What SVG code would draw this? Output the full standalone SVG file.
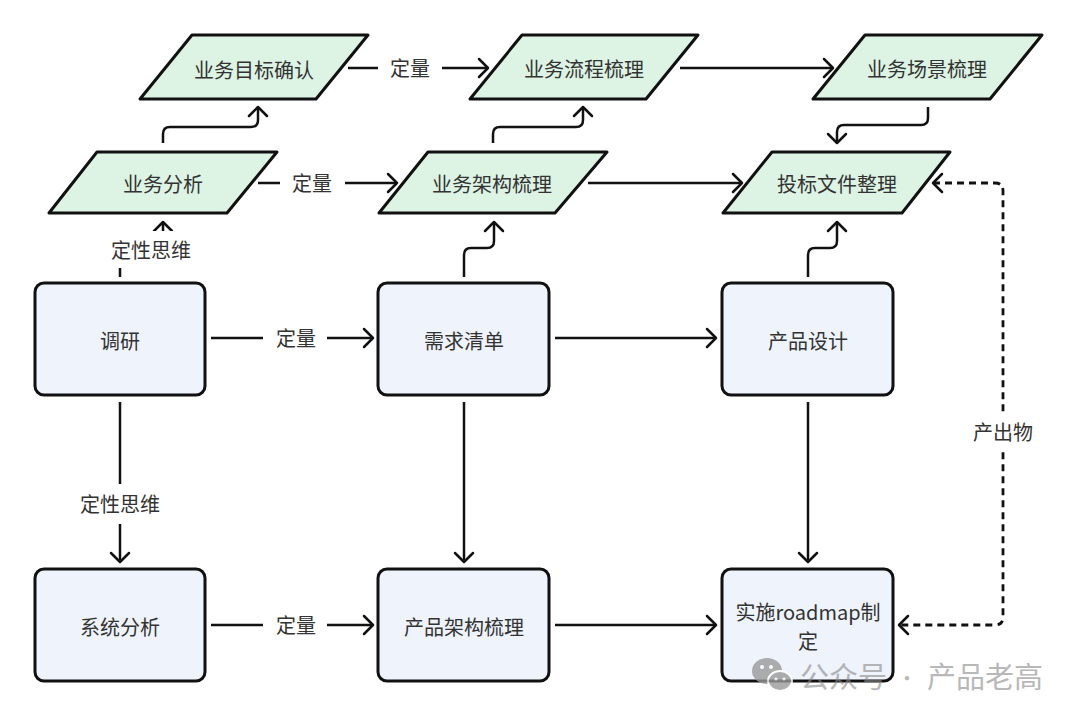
<svg xmlns="http://www.w3.org/2000/svg" width="1080" height="718" viewBox="0 0 1080 718">
<defs>
<style>
.para{fill:#ddf3e4;stroke:#111;stroke-width:3;stroke-linejoin:round}
.box{fill:#eff3fc;stroke:#111;stroke-width:3}
.t{font-family:"Noto Sans CJK SC","Noto Sans",sans-serif;font-size:20px;fill:#333;text-anchor:middle}
.c{fill:none;stroke:#111;stroke-width:2.5;stroke-linecap:butt;stroke-linejoin:round}
.d{fill:none;stroke:#111;stroke-width:2.8;stroke-dasharray:7 5}
.bg{fill:#fff}
.wm{font-family:"Noto Sans CJK SC","Noto Sans",sans-serif;font-size:29px;fill:#8a8a8a;opacity:0.75}
</style>
<marker id="a" viewBox="-12 -12 14 24" refX="0" refY="0" markerWidth="14" markerHeight="24" markerUnits="userSpaceOnUse" orient="auto-start-reverse">
<path d="M-9,-9 L0,0 L-9,9" fill="none" stroke="#111" stroke-width="2.5" stroke-linecap="round" stroke-linejoin="round"/>
</marker>
</defs>
<rect width="1080" height="718" fill="#fff"/>

<g id="connectors">
<path class="c" d="M348,68 H488" marker-end="url(#a)"/>
<path class="c" d="M680,68 H833" marker-end="url(#a)"/>
<path class="c" d="M258,183 H397" marker-end="url(#a)"/>
<path class="c" d="M588,183 H742" marker-end="url(#a)"/>
<path class="c" d="M163,143 V134 Q163,127 170,127 H251 Q258,127 258,120 V107" marker-end="url(#a)"/>
<path class="c" d="M493,143 V134 Q493,127 500,127 H576 Q583,127 583,120 V107" marker-end="url(#a)"/>
<path class="c" d="M928,107 V118 Q928,125 921,125 H844 Q837,125 837,132 V143" marker-end="url(#a)"/>
<path class="c" d="M464,277 V255 Q464,248 471,248 H487 Q494,248 494,241 V222" marker-end="url(#a)"/>
<path class="c" d="M808,277 V255 Q808,248 815,248 H830 Q837,248 837,241 V222" marker-end="url(#a)"/>
<path class="c" d="M120,277 V255 Q120,248 127,248 H156 Q163,248 163,241 V222" marker-end="url(#a)"/>
<path class="c" d="M211,338 H373" marker-end="url(#a)"/>
<path class="c" d="M555,338 H716" marker-end="url(#a)"/>
<path class="c" d="M120,402 V562" marker-end="url(#a)"/>
<path class="c" d="M464,402 V562" marker-end="url(#a)"/>
<path class="c" d="M808,402 V562" marker-end="url(#a)"/>
<path class="c" d="M211,625 H373" marker-end="url(#a)"/>
<path class="c" d="M555,625 H716" marker-end="url(#a)"/>
<path class="d" d="M933,183 H995 Q1003,183 1003,191 V617 Q1003,625 995,625 H899" marker-start="url(#a)" marker-end="url(#a)"/>
<!-- labels -->
<rect class="bg" x="378" y="54" width="64" height="28"/>
<text class="t" x="410" y="76">定量</text>
<rect class="bg" x="280" y="169" width="65" height="28"/>
<text class="t" x="312" y="191">定量</text>
<rect class="bg" x="263" y="324" width="64" height="28"/>
<text class="t" x="296" y="346">定量</text>
<rect class="bg" x="263" y="611" width="64" height="28"/>
<text class="t" x="296" y="633">定量</text>
<rect class="bg" x="104" y="231" width="94" height="37"/>
<text class="t" x="151" y="258">定性思维</text>
<rect class="bg" x="75" y="484" width="90" height="40"/>
<text class="t" x="120" y="512">定性思维</text>
<rect class="bg" x="965" y="414" width="76" height="38"/>
<text class="t" x="1003" y="440">产出物</text>
</g>

<g id="n-goal"><polygon class="para" points="192,35 368,35 316,99 140,99"/><text class="t" x="254" y="78">业务目标确认</text></g>
<g id="n-flow"><polygon class="para" points="522,35 698,35 646,99 470,99"/><text class="t" x="584" y="77">业务流程梳理</text></g>
<g id="n-scene"><polygon class="para" points="865,35 1042,35 990,99 813,99"/><text class="t" x="927" y="77">业务场景梳理</text></g>
<g id="n-ana"><polygon class="para" points="97,152 277,152 227,213 49,213"/><text class="t" x="163" y="192">业务分析</text></g>
<g id="n-arch"><polygon class="para" points="428,152 607,152 555,213 379,213"/><text class="t" x="492" y="192">业务架构梳理</text></g>
<g id="n-bid"><polygon class="para" points="772,152 950,152 902,213 723,213"/><text class="t" x="837" y="192">投标文件整理</text></g>

<g id="n-survey"><rect class="box" x="35" y="283" width="170" height="112" rx="9"/><text class="t" x="120" y="349">调研</text></g>
<g id="n-req"><rect class="box" x="378" y="283" width="171" height="112" rx="9"/><text class="t" x="464" y="349">需求清单</text></g>
<g id="n-design"><rect class="box" x="722" y="283" width="171" height="112" rx="9"/><text class="t" x="808" y="349">产品设计</text></g>
<g id="n-sys"><rect class="box" x="35" y="569" width="170" height="112" rx="9"/><text class="t" x="120" y="635">系统分析</text></g>
<g id="n-parch"><rect class="box" x="378" y="569" width="171" height="112" rx="9"/><text class="t" x="464" y="635">产品架构梳理</text></g>
<g id="n-road"><rect class="box" x="722" y="569" width="171" height="112" rx="9"/><text class="t" x="808" y="620">实施roadmap制</text><text class="t" x="808" y="649">定</text></g>

<g id="watermark" opacity="0.8">
<ellipse cx="767" cy="671" rx="15" ry="13" fill="#9a9a9a"/>
<ellipse cx="780" cy="681" rx="12" ry="10" fill="#9a9a9a" stroke="#fff" stroke-width="2"/>
<circle cx="762" cy="667" r="2" fill="#fff"/><circle cx="771" cy="667" r="2" fill="#fff"/>
<circle cx="776" cy="679" r="1.6" fill="#fff"/><circle cx="784" cy="679" r="1.6" fill="#fff"/>
<text class="wm" x="800" y="688">公众号</text>
<text class="wm" x="907" y="686" text-anchor="middle" style="font-size:20px">·</text>
<text class="wm" x="927" y="688">产品老高</text>
</g>
</svg>
